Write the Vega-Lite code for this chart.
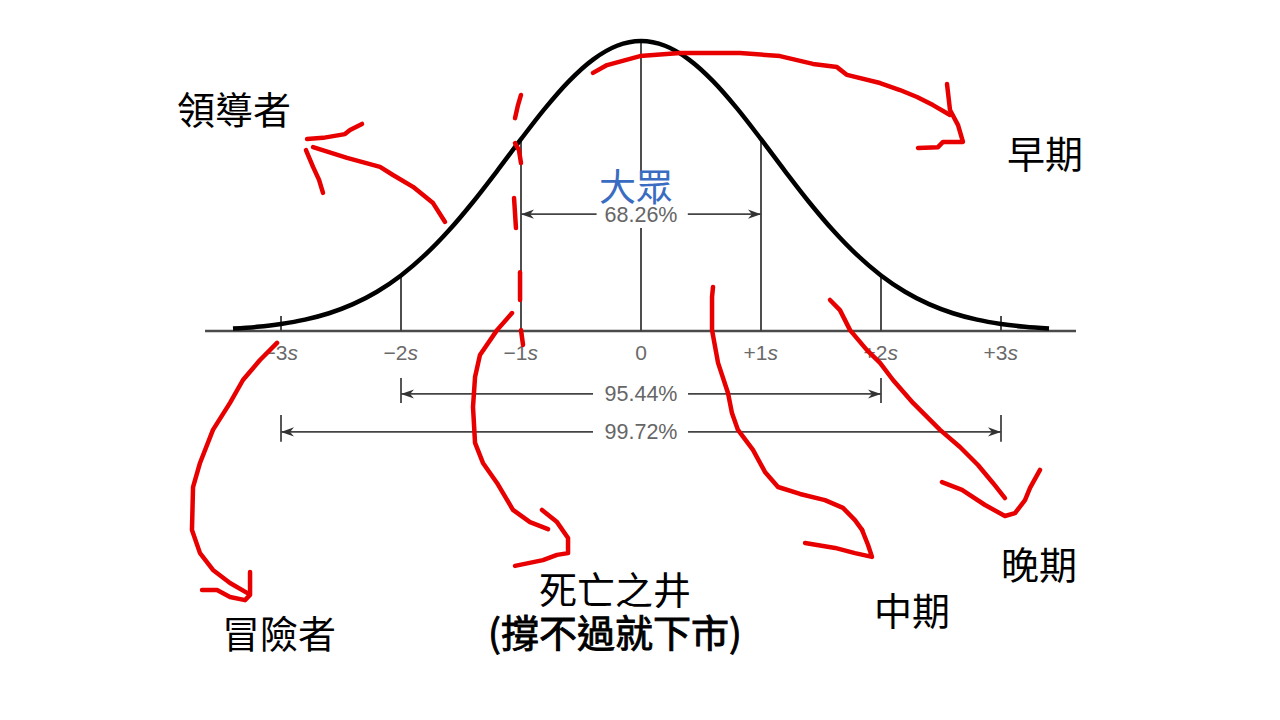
{
  "$schema": "https://vega.github.io/schema/vega-lite/v6.json",
  "width": 1280,
  "height": 720,
  "autosize": {"type": "fit", "contains": "padding"},
  "padding": 0,
  "background": "white",
  "config": {"view": {"stroke": null}},
  "datasets": {
    "curve": [
      {"s": -3.4, "v": 0.0084}, {"s": -3.2, "v": 0.0145}, {"s": -3.0, "v": 0.0243}, {"s": -2.8, "v": 0.0392},
      {"s": -2.6, "v": 0.0612}, {"s": -2.4, "v": 0.0925}, {"s": -2.2, "v": 0.1353}, {"s": -2.0, "v": 0.1915},
      {"s": -1.8, "v": 0.2622}, {"s": -1.6, "v": 0.3472}, {"s": -1.4, "v": 0.4449}, {"s": -1.2, "v": 0.5515},
      {"s": -1.0, "v": 0.6615}, {"s": -0.8, "v": 0.7677}, {"s": -0.6, "v": 0.8618}, {"s": -0.4, "v": 0.936},
      {"s": -0.2, "v": 0.9836}, {"s": 0, "v": 1},
      {"s": 0.2, "v": 0.9836}, {"s": 0.4, "v": 0.936}, {"s": 0.6, "v": 0.8618}, {"s": 0.8, "v": 0.7677},
      {"s": 1.0, "v": 0.6615}, {"s": 1.2, "v": 0.5515}, {"s": 1.4, "v": 0.4449}, {"s": 1.6, "v": 0.3472},
      {"s": 1.8, "v": 0.2622}, {"s": 2.0, "v": 0.1915}, {"s": 2.2, "v": 0.1353}, {"s": 2.4, "v": 0.0925},
      {"s": 2.6, "v": 0.0612}, {"s": 2.8, "v": 0.0392}, {"s": 3.0, "v": 0.0243}, {"s": 3.2, "v": 0.0145},
      {"s": 3.4, "v": 0.0084}
    ],
    "segs": [
      {"g": "axis", "s": -3.633, "v": 0, "s2": 3.625, "v2": 0},
      {"g": "vert", "s": -2, "v": 0, "s2": -2, "v2": 0.1915},
      {"g": "vert", "s": -1, "v": 0, "s2": -1, "v2": 0.6615},
      {"g": "vert", "s": 0, "v": 0, "s2": 0, "v2": 0.355},
      {"g": "vert", "s": 0, "v": 0.548, "s2": 0, "v2": 1},
      {"g": "vert", "s": 1, "v": 0, "s2": 1, "v2": 0.6615},
      {"g": "vert", "s": 2, "v": 0, "s2": 2, "v2": 0.1915},
      {"g": "vert", "s": -3, "v": 0, "s2": -3, "v2": 0.052},
      {"g": "vert", "s": 3, "v": 0, "s2": 3, "v2": 0.052},
      {"g": "arr", "s": -1, "v": 0.403, "s2": -0.37, "v2": 0.403},
      {"g": "arr", "s": 0.39, "v": 0.403, "s2": 1, "v2": 0.403},
      {"g": "arr", "s": -2, "v": -0.217, "s2": -0.4, "v2": -0.217},
      {"g": "arr", "s": 0.392, "v": -0.217, "s2": 2, "v2": -0.217},
      {"g": "arr", "s": -2, "v": -0.162, "s2": -2, "v2": -0.248},
      {"g": "arr", "s": 2, "v": -0.162, "s2": 2, "v2": -0.248},
      {"g": "arr", "s": -3, "v": -0.348, "s2": -0.4, "v2": -0.348},
      {"g": "arr", "s": 0.392, "v": -0.348, "s2": 3, "v2": -0.348},
      {"g": "arr", "s": -3, "v": -0.29, "s2": -3, "v2": -0.382},
      {"g": "arr", "s": 3, "v": -0.29, "s2": 3, "v2": -0.382}
    ],
    "heads": [
      {"s": -1, "v": 0.403, "d": "L"}, {"s": 1, "v": 0.403, "d": "R"},
      {"s": -2, "v": -0.217, "d": "L"}, {"s": 2, "v": -0.217, "d": "R"},
      {"s": -3, "v": -0.348, "d": "L"}, {"s": 3, "v": -0.348, "d": "R"}
    ],
    "texts": [
      {"k": "pct", "t": "68.26%", "s": 0, "v": 0.398},
      {"k": "pct", "t": "95.44%", "s": 0, "v": -0.221},
      {"k": "pct", "t": "99.72%", "s": 0, "v": -0.352},
      {"k": "num", "t": "−3", "s": -3, "v": -0.079},
      {"k": "num", "t": "−2", "s": -2, "v": -0.079},
      {"k": "num", "t": "−1", "s": -1, "v": -0.079},
      {"k": "num", "t": "+1", "s": 1, "v": -0.079},
      {"k": "num", "t": "+2", "s": 2, "v": -0.079},
      {"k": "num", "t": "+3", "s": 3, "v": -0.079},
      {"k": "sym", "t": "s", "s": -3, "v": -0.079},
      {"k": "sym", "t": "s", "s": -2, "v": -0.079},
      {"k": "sym", "t": "s", "s": -1, "v": -0.079},
      {"k": "sym", "t": "s", "s": 1, "v": -0.079},
      {"k": "sym", "t": "s", "s": 2, "v": -0.079},
      {"k": "sym", "t": "s", "s": 3, "v": -0.079},
      {"k": "zero", "t": "0", "s": 0, "v": -0.079},
      {"k": "cjk", "t": "領導者", "s": -3.392, "v": 0.752},
      {"k": "cjk", "t": "早期", "s": 3.367, "v": 0.6},
      {"k": "cjk", "t": "冒險者", "s": -3.017, "v": -1.055},
      {"k": "cjk", "t": "死亡之井", "s": -0.217, "v": -0.903},
      {"k": "cjk", "t": "中期", "s": 2.258, "v": -0.976},
      {"k": "cjk", "t": "晚期", "s": 3.317, "v": -0.817},
      {"k": "blue", "t": "大眾", "s": -0.042, "v": 0.485},
      {"k": "bold", "t": "(撐不過就下市)", "s": -0.217, "v": -1.052}
    ],
    "red": [
      {"id": "A", "i": 0, "s": -2.733, "v": 0.634}, {"id": "A", "i": 1, "s": -2.45, "v": 0.597},
      {"id": "A", "i": 2, "s": -2.175, "v": 0.566}, {"id": "A", "i": 3, "s": -2.067, "v": 0.538},
      {"id": "A", "i": 4, "s": -1.9, "v": 0.497}, {"id": "A", "i": 5, "s": -1.733, "v": 0.441},
      {"id": "A", "i": 6, "s": -1.633, "v": 0.376},
      {"id": "A2", "i": 0, "s": -2.783, "v": 0.662}, {"id": "A2", "i": 1, "s": -2.65, "v": 0.666},
      {"id": "A2", "i": 2, "s": -2.467, "v": 0.679}, {"id": "A2", "i": 3, "s": -2.425, "v": 0.693},
      {"id": "A2", "i": 4, "s": -2.325, "v": 0.714},
      {"id": "A3", "i": 0, "s": -2.792, "v": 0.624}, {"id": "A3", "i": 1, "s": -2.733, "v": 0.566},
      {"id": "A3", "i": 2, "s": -2.683, "v": 0.521}, {"id": "A3", "i": 3, "s": -2.65, "v": 0.476},
      {"id": "B", "i": 0, "s": -0.4, "v": 0.89}, {"id": "B", "i": 1, "s": -0.283, "v": 0.917},
      {"id": "B", "i": 2, "s": -0.008, "v": 0.948}, {"id": "B", "i": 3, "s": 0.325, "v": 0.959},
      {"id": "B", "i": 4, "s": 0.825, "v": 0.959}, {"id": "B", "i": 5, "s": 1.158, "v": 0.948},
      {"id": "B", "i": 6, "s": 1.433, "v": 0.921}, {"id": "B", "i": 7, "s": 1.633, "v": 0.91},
      {"id": "B", "i": 8, "s": 1.717, "v": 0.883}, {"id": "B", "i": 9, "s": 1.992, "v": 0.855},
      {"id": "B", "i": 10, "s": 2.158, "v": 0.831}, {"id": "B", "i": 11, "s": 2.3, "v": 0.807},
      {"id": "B", "i": 12, "s": 2.433, "v": 0.779}, {"id": "B", "i": 13, "s": 2.575, "v": 0.745},
      {"id": "B2", "i": 0, "s": 2.55, "v": 0.852}, {"id": "B2", "i": 1, "s": 2.575, "v": 0.762},
      {"id": "B2", "i": 2, "s": 2.642, "v": 0.71}, {"id": "B2", "i": 3, "s": 2.683, "v": 0.652},
      {"id": "B2", "i": 4, "s": 2.517, "v": 0.652}, {"id": "B2", "i": 5, "s": 2.475, "v": 0.634},
      {"id": "B2", "i": 6, "s": 2.308, "v": 0.631},
      {"id": "C1", "i": 0, "s": -1.0, "v": 0.814}, {"id": "C1", "i": 1, "s": -1.025, "v": 0.779},
      {"id": "C1", "i": 2, "s": -1.05, "v": 0.734},
      {"id": "C2", "i": 0, "s": -1.05, "v": 0.648}, {"id": "C2", "i": 1, "s": -1.017, "v": 0.624},
      {"id": "C2", "i": 2, "s": -1.0, "v": 0.579},
      {"id": "C3", "i": 0, "s": -1.058, "v": 0.459}, {"id": "C3", "i": 1, "s": -1.042, "v": 0.355},
      {"id": "C4", "i": 0, "s": -1.008, "v": 0.203}, {"id": "C4", "i": 1, "s": -1.008, "v": 0.107},
      {"id": "C5", "i": 0, "s": -1.0, "v": 0.003}, {"id": "C5", "i": 1, "s": -0.983, "v": -0.048},
      {"id": "D", "i": 0, "s": -1.075, "v": 0.062}, {"id": "D", "i": 1, "s": -1.2, "v": 0.003},
      {"id": "D", "i": 2, "s": -1.342, "v": -0.083}, {"id": "D", "i": 3, "s": -1.383, "v": -0.159},
      {"id": "D", "i": 4, "s": -1.4, "v": -0.262}, {"id": "D", "i": 5, "s": -1.383, "v": -0.386},
      {"id": "D", "i": 6, "s": -1.317, "v": -0.455}, {"id": "D", "i": 7, "s": -1.2, "v": -0.524},
      {"id": "D", "i": 8, "s": -1.067, "v": -0.617}, {"id": "D", "i": 9, "s": -0.925, "v": -0.659},
      {"id": "D", "i": 10, "s": -0.775, "v": -0.683},
      {"id": "D2", "i": 0, "s": -0.825, "v": -0.617}, {"id": "D2", "i": 1, "s": -0.7, "v": -0.659},
      {"id": "D2", "i": 2, "s": -0.608, "v": -0.714}, {"id": "D2", "i": 3, "s": -0.608, "v": -0.766},
      {"id": "D2", "i": 4, "s": -0.7, "v": -0.772}, {"id": "D2", "i": 5, "s": -0.817, "v": -0.79},
      {"id": "D2", "i": 6, "s": -1.05, "v": -0.81},
      {"id": "E", "i": 0, "s": -3.033, "v": -0.041}, {"id": "E", "i": 1, "s": -3.175, "v": -0.1},
      {"id": "E", "i": 2, "s": -3.317, "v": -0.169}, {"id": "E", "i": 3, "s": -3.425, "v": -0.248},
      {"id": "E", "i": 4, "s": -3.567, "v": -0.341}, {"id": "E", "i": 5, "s": -3.675, "v": -0.455},
      {"id": "E", "i": 6, "s": -3.733, "v": -0.538}, {"id": "E", "i": 7, "s": -3.742, "v": -0.686},
      {"id": "E", "i": 8, "s": -3.675, "v": -0.766}, {"id": "E", "i": 9, "s": -3.567, "v": -0.824},
      {"id": "E", "i": 10, "s": -3.425, "v": -0.869}, {"id": "E", "i": 11, "s": -3.283, "v": -0.903},
      {"id": "E2", "i": 0, "s": -3.258, "v": -0.831}, {"id": "E2", "i": 1, "s": -3.258, "v": -0.91},
      {"id": "E2", "i": 2, "s": -3.3, "v": -0.928}, {"id": "E2", "i": 3, "s": -3.425, "v": -0.917},
      {"id": "E2", "i": 4, "s": -3.533, "v": -0.893}, {"id": "E2", "i": 5, "s": -3.658, "v": -0.893},
      {"id": "F", "i": 0, "s": 0.6, "v": 0.152}, {"id": "F", "i": 1, "s": 0.592, "v": 0.117},
      {"id": "F", "i": 2, "s": 0.592, "v": 0.003}, {"id": "F", "i": 3, "s": 0.642, "v": -0.11},
      {"id": "F", "i": 4, "s": 0.725, "v": -0.214}, {"id": "F", "i": 5, "s": 0.758, "v": -0.283},
      {"id": "F", "i": 6, "s": 0.808, "v": -0.341}, {"id": "F", "i": 7, "s": 0.933, "v": -0.41},
      {"id": "F", "i": 8, "s": 1.033, "v": -0.486}, {"id": "F", "i": 9, "s": 1.142, "v": -0.538},
      {"id": "F", "i": 10, "s": 1.325, "v": -0.562}, {"id": "F", "i": 11, "s": 1.533, "v": -0.583},
      {"id": "F", "i": 12, "s": 1.683, "v": -0.61}, {"id": "F", "i": 13, "s": 1.783, "v": -0.652},
      {"id": "F", "i": 14, "s": 1.842, "v": -0.686},
      {"id": "F2", "i": 0, "s": 1.842, "v": -0.686}, {"id": "F2", "i": 1, "s": 1.892, "v": -0.738},
      {"id": "F2", "i": 2, "s": 1.925, "v": -0.779}, {"id": "F2", "i": 3, "s": 1.783, "v": -0.766},
      {"id": "F2", "i": 4, "s": 1.617, "v": -0.748}, {"id": "F2", "i": 5, "s": 1.367, "v": -0.731},
      {"id": "G", "i": 0, "s": 1.575, "v": 0.107}, {"id": "G", "i": 1, "s": 1.658, "v": 0.072},
      {"id": "G", "i": 2, "s": 1.742, "v": 0.003}, {"id": "G", "i": 3, "s": 1.883, "v": -0.066},
      {"id": "G", "i": 4, "s": 1.992, "v": -0.11}, {"id": "G", "i": 5, "s": 2.1, "v": -0.169},
      {"id": "G", "i": 6, "s": 2.267, "v": -0.248}, {"id": "G", "i": 7, "s": 2.492, "v": -0.341},
      {"id": "G", "i": 8, "s": 2.658, "v": -0.4}, {"id": "G", "i": 9, "s": 2.808, "v": -0.462},
      {"id": "G", "i": 10, "s": 2.933, "v": -0.524}, {"id": "G", "i": 11, "s": 3.033, "v": -0.576},
      {"id": "G2", "i": 0, "s": 2.508, "v": -0.521}, {"id": "G2", "i": 1, "s": 2.675, "v": -0.548},
      {"id": "G2", "i": 2, "s": 2.867, "v": -0.6}, {"id": "G2", "i": 3, "s": 3.033, "v": -0.638},
      {"id": "G2", "i": 4, "s": 3.117, "v": -0.628}, {"id": "G2", "i": 5, "s": 3.2, "v": -0.583},
      {"id": "G2", "i": 6, "s": 3.242, "v": -0.541}, {"id": "G2", "i": 7, "s": 3.325, "v": -0.479}
    ]
  },
  "encoding": {
    "x": {"field": "s", "type": "quantitative", "scale": {"domain": [-5.3417, 5.325], "nice": false, "zero": false}, "axis": null},
    "y": {"field": "v", "type": "quantitative", "scale": {"domain": [-1.3414, 1.1414], "nice": false, "zero": false}, "axis": null}
  },
  "layer": [
    {
      "data": {"name": "segs"},
      "transform": [{"filter": "datum.g === 'axis'"}],
      "mark": {"type": "rule", "color": "#4a4a4a", "strokeWidth": 2.5},
      "encoding": {"x2": {"field": "s2"}, "y2": {"field": "v2"}}
    },
    {
      "data": {"name": "segs"},
      "transform": [{"filter": "datum.g === 'vert'"}],
      "mark": {"type": "rule", "color": "#3a3a3a", "strokeWidth": 1.8},
      "encoding": {"x2": {"field": "s2"}, "y2": {"field": "v2"}}
    },
    {
      "data": {"name": "segs"},
      "transform": [{"filter": "datum.g === 'arr'"}],
      "mark": {"type": "rule", "color": "#444444", "strokeWidth": 1.8},
      "encoding": {"x2": {"field": "s2"}, "y2": {"field": "v2"}}
    },
    {
      "data": {"name": "heads"},
      "mark": {"type": "point", "filled": true, "size": 169, "color": "#333333", "opacity": 1},
      "encoding": {
        "shape": {"field": "d", "type": "nominal", "legend": null,
          "scale": {"domain": ["L", "R"], "range": ["M0,0 L2,-0.7 L1.4,0 L2,0.7 Z", "M0,0 L-2,-0.7 L-1.4,0 L-2,0.7 Z"]}}
      }
    },
    {
      "data": {"name": "curve"},
      "mark": {"type": "line", "color": "#000000", "strokeWidth": 4.5, "interpolate": "monotone"},
      "encoding": {}
    },
    {
      "data": {"name": "texts"},
      "transform": [{"filter": "datum.k === 'pct'"}],
      "mark": {"type": "text", "font": "Liberation Sans", "fontSize": 21.5, "color": "#666666", "align": "center", "baseline": "middle"},
      "encoding": {"text": {"field": "t"}}
    },
    {
      "data": {"name": "texts"},
      "transform": [{"filter": "datum.k === 'num'"}],
      "mark": {"type": "text", "font": "Liberation Sans", "fontSize": 21, "color": "#6a6a6a", "align": "right", "baseline": "middle", "dx": 6.5},
      "encoding": {"text": {"field": "t"}}
    },
    {
      "data": {"name": "texts"},
      "transform": [{"filter": "datum.k === 'sym'"}],
      "mark": {"type": "text", "font": "Liberation Sans", "fontSize": 21, "fontStyle": "italic", "color": "#6a6a6a", "align": "left", "baseline": "middle", "dx": 6.5},
      "encoding": {"text": {"field": "t"}}
    },
    {
      "data": {"name": "texts"},
      "transform": [{"filter": "datum.k === 'zero'"}],
      "mark": {"type": "text", "font": "Liberation Sans", "fontSize": 21, "color": "#6a6a6a", "align": "center", "baseline": "middle"},
      "encoding": {"text": {"field": "t"}}
    },
    {
      "data": {"name": "texts"},
      "transform": [{"filter": "datum.k === 'cjk'"}],
      "mark": {"type": "text", "font": "Noto Sans CJK TC", "fontSize": 38, "color": "#000000", "align": "center", "baseline": "middle"},
      "encoding": {"text": {"field": "t"}}
    },
    {
      "data": {"name": "texts"},
      "transform": [{"filter": "datum.k === 'blue'"}],
      "mark": {"type": "text", "font": "Noto Sans CJK TC", "fontSize": 37, "color": "#3a6cc2", "align": "center", "baseline": "middle"},
      "encoding": {"text": {"field": "t"}}
    },
    {
      "data": {"name": "texts"},
      "transform": [{"filter": "datum.k === 'bold'"}],
      "mark": {"type": "text", "font": "Noto Sans CJK TC", "fontSize": 38, "fontWeight": "normal", "color": "#000000", "stroke": "#000000", "strokeWidth": 0.9, "align": "center", "baseline": "middle"},
      "encoding": {"text": {"field": "t"}}
    },
    {
      "data": {"name": "red"},
      "mark": {"type": "line", "color": "#e80000", "strokeWidth": 4.5, "strokeCap": "round", "strokeJoin": "round"},
      "encoding": {"detail": {"field": "id"}, "order": {"field": "i", "type": "quantitative"}}
    }
  ]
}
